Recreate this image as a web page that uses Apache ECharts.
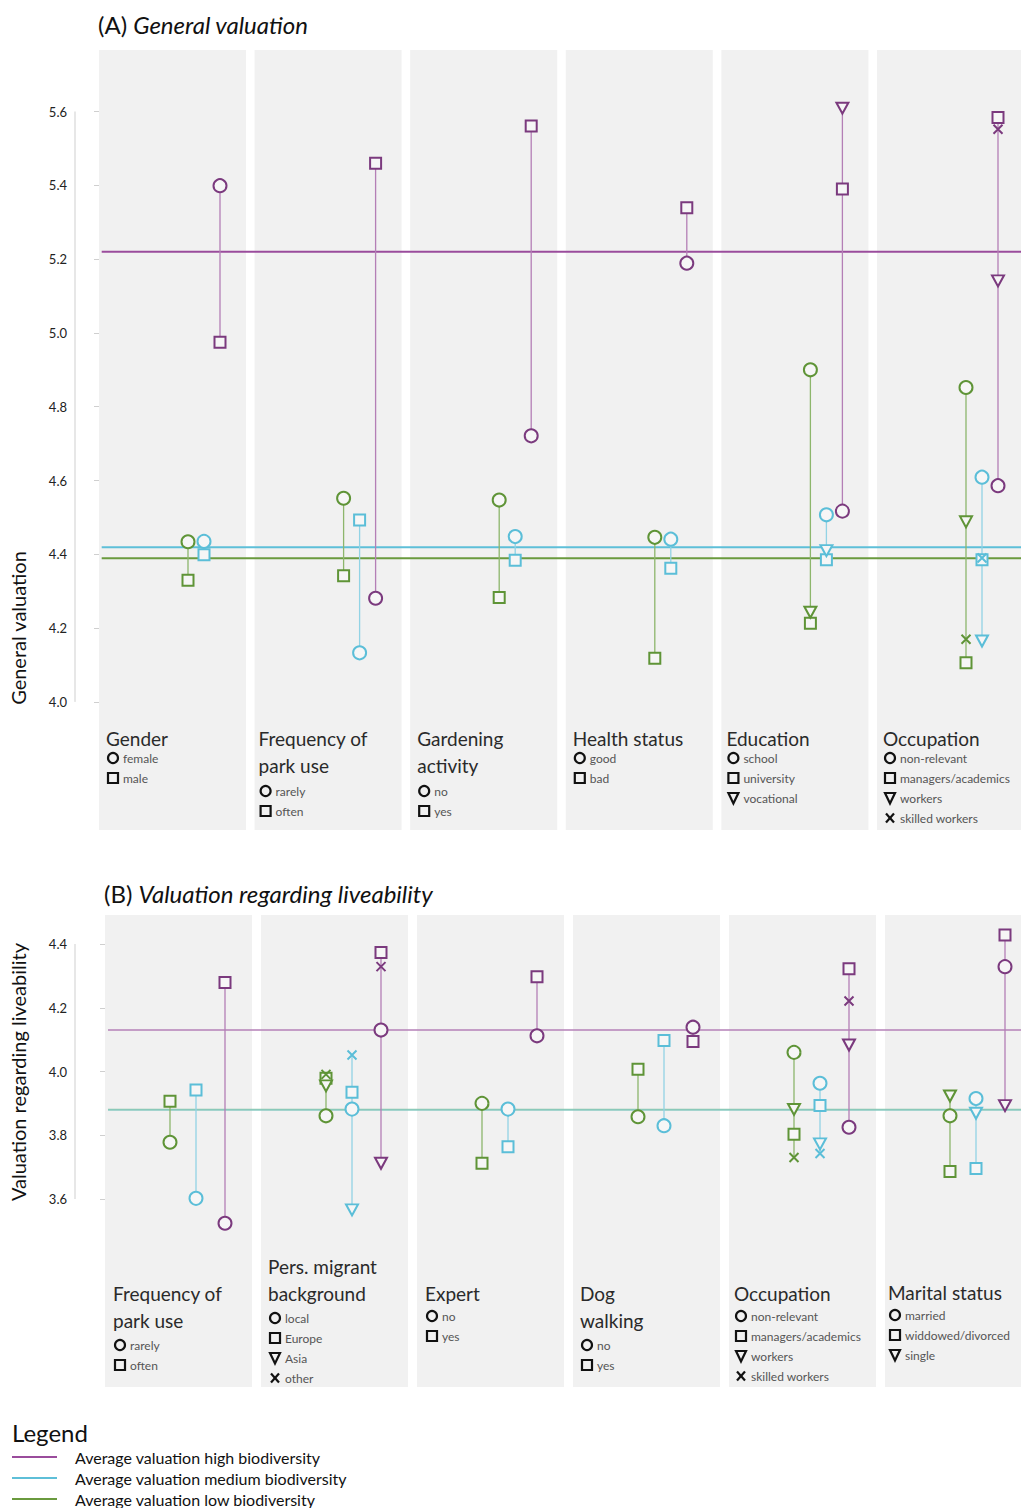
<!DOCTYPE html>
<html><head><meta charset="utf-8">
<script src="https://cdn.jsdelivr.net/npm/echarts@6/dist/echarts.min.js"></script>
<style>html,body{margin:0;padding:0;background:#fff}#c{width:1021px;height:1508px}</style>
</head><body><div id="c"></div>
<script>
// ---------------- DATA ----------------
const levels = ['low', 'medium', 'high'];
const markerShapes = ['circle', 'square', 'triangle', 'cross'];

// Panel A: General valuation
const facetTitlesA = [['Gender'], ['Frequency of', 'park use'], ['Gardening', 'activity'], ['Health status'], ['Education'], ['Occupation']];
const facetCatsA = [['female', 'male'], ['rarely', 'often'], ['no', 'yes'], ['good', 'bad'], ['school', 'university', 'vocational'], ['non-relevant', 'managers/academics', 'workers', 'skilled workers']];
// values per facet in order: circle, square, triangle, cross
const valuesA_low = [[4.434, 4.330], [4.552, 4.342], [4.547, 4.283], [4.446, 4.118], [4.900, 4.213, 4.243], [4.852, 4.106, 4.488, 4.170]];
const valuesA_medium = [[4.435, 4.399], [4.133, 4.493], [4.448, 4.384], [4.441, 4.362], [4.507, 4.385, 4.410], [4.609, 4.385, 4.165, 4.390]];
const valuesA_high = [[5.399, 4.975], [4.281, 5.460], [4.721, 5.561], [5.189, 5.339], [4.517, 5.390, 5.609], [4.586, 5.584, 5.141, 5.552]];
const averagesA = [4.389, 4.419, 5.220]; // low, medium, high
const ticksA = [4.0, 4.2, 4.4, 4.6, 4.8, 5.0, 5.2, 5.4, 5.6];

// Panel B: Valuation regarding liveability
const facetTitlesB = [['Frequency of', 'park use'], ['Pers. migrant', 'background'], ['Expert'], ['Dog', 'walking'], ['Occupation'], ['Marital status']];
const facetCatsB = [['rarely', 'often'], ['local', 'Europe', 'Asia', 'other'], ['no', 'yes'], ['no', 'yes'], ['non-relevant', 'managers/academics', 'workers', 'skilled workers'], ['married', 'widdowed/divorced', 'single']];
const valuesB_low = [[3.778, 3.907], [3.861, 3.979, 3.955, 3.991], [3.900, 3.712], [3.858, 4.007], [4.060, 3.803, 3.881, 3.730], [3.861, 3.686, 3.923]];
const valuesB_medium = [[3.602, 3.942], [3.882, 3.935, 3.566, 4.052], [3.882, 3.764], [3.830, 4.097], [3.963, 3.893, 3.773, 3.743], [3.915, 3.696, 3.869]];
const valuesB_high = [[3.524, 4.279], [4.130, 4.373, 3.712, 4.329], [4.112, 4.297], [4.139, 4.094], [3.825, 4.322, 4.083, 4.221], [4.329, 4.428, 3.893]];
const averagesB = [3.881, 3.879, 4.130];
const ticksB = [3.6, 3.8, 4.0, 4.2, 4.4];

const legendLabels = ['Average valuation high biodiversity', 'Average valuation medium biodiversity', 'Average valuation low biodiversity'];

// ---------------- STYLE / LAYOUT ----------------
const FONT = 'Lato, "Open Sans", "DejaVu Sans", sans-serif';
const COL = {
  low: { mark: '#5f9437', conn: '#8db66c', avgA: '#6a9a3e', avgB: '#82c19a' },
  medium: { mark: '#5bbed8', conn: '#92d3e5', avgA: '#5ebfd8', avgB: '#86c9c4' },
  high: { mark: '#7b3a7e', conn: '#b47fb6', avgA: '#9a4c9c', avgB: '#b581b7' }
};
const panels = [
  { titleA: '(A) ', titleB: 'General valuation', titleX: 98, titleY: 24, axisName: 'General valuation', axisNameY: 628,
    top: 50, height: 780, left: 75, width: 946, x0: 99, step: 155.6, facetW: 147,
    vTop: 5.6, yTop: 111.5, ppu: 369, offsets: [89, 105, 121], avgStart: 101.7, lw: 2,
    ticks: ticksA, titles: facetTitlesA, cats: facetCatsA, vals: [valuesA_low, valuesA_medium, valuesA_high], avgs: averagesA,
    labelTitleY: [738, 738, 738, 738, 738, 738], labelDx: [7, 4, 7, 7, 5, 6], itemGap1: 20, itemGap2: 26 },
  { titleA: '(B) ', titleB: 'Valuation regarding liveability', titleX: 104, titleY: 893, axisName: 'Valuation regarding liveability', axisNameY: 1072,
    top: 915, height: 472, left: 75, width: 946, x0: 105, step: 156, facetW: 147,
    vTop: 4.4, yTop: 944, ppu: 318.75, offsets: [65, 91, 120], avgStart: 108, lw: 1.5,
    ticks: ticksB, titles: facetTitlesB, cats: facetCatsB, vals: [valuesB_low, valuesB_medium, valuesB_high], avgs: averagesB,
    labelTitleY: [1293, 1266, 1293, 1293, 1293, 1292], labelDx: [8, 7, 8, 7, 5, 3], itemGap1: 23, itemGap2: 25 }
];

const symbolDef = {
  circle: { symbol: 'circle', size: 13, rot: 0 },
  square: { symbol: 'rect', size: 11, rot: 0 },
  triangle: { symbol: 'triangle', size: [12, 11], rot: 180 },
  cross: { symbol: 'path://M0,0L10,10M10,0L0,10', size: 9, rot: 0 }
};

const grids = [], xAxes = [], yAxes = [], series = [], graphics = [];
const ZG = 100;

panels.forEach((p, pi) => {
  const xMin = (p.left - p.x0) / p.step, xMax = (p.left + p.width - p.x0) / p.step;
  const yMax = p.vTop + (p.yTop - p.top) / p.ppu;
  const yMin = p.vTop - (p.top + p.height - p.yTop) / p.ppu;
  const fw = p.facetW / p.step;
  grids.push({ left: p.left, top: p.top, width: p.width, height: p.height, containLabel: false });
  xAxes.push({ type: 'value', gridIndex: pi, min: xMin, max: xMax, show: false });
  yAxes.push({ type: 'value', gridIndex: pi, min: yMin, max: yMax,
    axisLine: { show: false }, splitLine: { show: false },
    axisTick: { show: true, customValues: p.ticks, length: 5, lineStyle: { color: '#cfcfcf' } },
    axisLabel: { customValues: p.ticks, formatter: v => v.toFixed(1), fontFamily: FONT, fontSize: 13, color: '#222', margin: 8, padding: [0, 0, 8, 0] } });

  // facet backgrounds
  series.push({ type: 'custom', xAxisIndex: pi, yAxisIndex: pi, silent: true, z: 0, clip: false,
    data: p.titles.map((t, f) => [f, yMin]), encode: { x: 0, y: 1 },
    renderItem: (params, api) => {
      const f = api.value(0);
      const a = api.coord([f, yMax]), b = api.coord([f + fw, yMin]);
      return { type: 'rect', shape: { x: a[0], y: a[1], width: b[0] - a[0], height: b[1] - a[1] }, style: { fill: '#f1f1f1' } };
    } });
  // y axis line (only across tick range)
  series.push({ type: 'line', xAxisIndex: pi, yAxisIndex: pi, silent: true, z: 1, clip: false, symbol: 'none',
    data: [[xMin, p.ticks[0]], [xMin, p.ticks[p.ticks.length - 1]]], lineStyle: { color: '#cfcfcf', width: 1 } });
  // average lines
  levels.forEach((lv, li) => {
    series.push({ type: 'line', xAxisIndex: pi, yAxisIndex: pi, silent: true, z: 2, symbol: 'none',
      data: [[(p.avgStart - p.x0) / p.step, p.avgs[li]], [xMax, p.avgs[li]]],
      lineStyle: { color: pi === 0 ? COL[lv].avgA : COL[lv].avgB, width: p.lw, opacity: pi === 1 && lv !== 'high' ? 0.85 : 1 } });
  });
  // connectors and markers
  levels.forEach((lv, li) => {
    const vals = p.vals[li];
    const conn = [], pts = [];
    vals.forEach((arr, f) => {
      const x = f + p.offsets[li] / p.step;
      const nums = arr.filter(v => v != null);
      conn.push([x, Math.min(...nums), Math.max(...nums)]);
      arr.forEach((v, ci) => {
        if (v == null) return;
        const sd = symbolDef[markerShapes[ci]];
        pts.push({ value: [x, v], symbol: sd.symbol, symbolSize: sd.size, symbolRotate: sd.rot });
      });
    });
    series.push({ type: 'custom', xAxisIndex: pi, yAxisIndex: pi, silent: true, z: 3,
      data: conn, encode: { x: 0, y: [1, 2] },
      renderItem: (params, api) => {
        const a = api.coord([api.value(0), api.value(1)]), b = api.coord([api.value(0), api.value(2)]);
        return { type: 'line', shape: { x1: a[0], y1: a[1], x2: b[0], y2: b[1] }, style: { stroke: COL[lv].conn, lineWidth: 1.3 } };
      } });
    series.push({ type: 'scatter', xAxisIndex: pi, yAxisIndex: pi, z: 4, silent: true, data: pts,
      itemStyle: { color: '#f6f6f6', borderColor: COL[lv].mark, borderWidth: 2, opacity: 1 } });
  });

  // panel title
  graphics.push({ type: 'text', z: ZG, x: p.titleX, y: p.titleY, style: {
    text: '{a|' + p.titleA + '}{b|' + p.titleB + '}', verticalAlign: 'middle', textVerticalAlign: 'middle',
    rich: { a: { fontFamily: FONT, fontSize: 24, fill: '#111', color: '#111' }, b: { fontFamily: FONT, fontSize: 24, fontStyle: 'italic', fill: '#111', color: '#111' } } } });
  // axis name
  graphics.push({ type: 'text', z: ZG, x: 18, y: p.axisNameY, rotation: Math.PI / 2, style: {
    text: p.axisName, font: '20px ' + FONT, fill: '#111', align: 'center', verticalAlign: 'middle', textAlign: 'center', textVerticalAlign: 'middle' } });

  // facet labels
  p.titles.forEach((lines, f) => {
    const tx = p.x0 + p.step * f + p.labelDx[f];
    let y = p.labelTitleY[f];
    lines.forEach((ln, k) => {
      graphics.push({ type: 'text', z: ZG, x: tx, y: y + 27 * k, style: { text: ln, font: '19px ' + FONT, fill: '#2a2a2a', verticalAlign: 'middle', textVerticalAlign: 'middle' } });
    });
    let iy = y + 27 * (lines.length - 1) + (lines.length > 1 ? p.itemGap2 : p.itemGap1);
    p.cats[f].forEach((c, ci) => {
      const gx = tx + 7, gy = iy + 20 * ci;
      const shape = markerShapes[ci];
      const st = { stroke: '#111', lineWidth: 2.2, fill: 'none' };
      if (shape === 'circle') graphics.push({ type: 'circle', z: ZG, shape: { cx: gx, cy: gy, r: 5 }, style: st });
      else if (shape === 'square') graphics.push({ type: 'rect', z: ZG, shape: { x: gx - 5, y: gy - 5, width: 10, height: 10 }, style: st });
      else if (shape === 'triangle') graphics.push({ type: 'polygon', z: ZG, shape: { points: [[gx - 5, gy - 5], [gx + 5, gy - 5], [gx, gy + 5.5]] }, style: st });
      else {
        graphics.push({ type: 'line', z: ZG, shape: { x1: gx - 4, y1: gy - 4.5, x2: gx + 4, y2: gy + 4.5 }, style: st });
        graphics.push({ type: 'line', z: ZG, shape: { x1: gx + 4, y1: gy - 4.5, x2: gx - 4, y2: gy + 4.5 }, style: st });
      }
      graphics.push({ type: 'text', z: ZG, x: tx + 17, y: gy, style: { text: c, font: '12px ' + FONT, fill: '#555', verticalAlign: 'middle', textVerticalAlign: 'middle' } });
    });
  });
});

// bottom legend
graphics.push({ type: 'text', z: ZG, x: 12, y: 1432, style: { text: 'Legend', font: '24px ' + FONT, fill: '#111', verticalAlign: 'middle', textVerticalAlign: 'middle' } });
const legendCols = [COL.high.avgA, COL.medium.avgA, COL.low.avgA];
const legendYs = [1457, 1478, 1499];
legendLabels.forEach((t, i) => {
  graphics.push({ type: 'line', z: ZG, shape: { x1: 12, y1: legendYs[i], x2: 57, y2: legendYs[i] }, style: { stroke: legendCols[i], lineWidth: 2 } });
  graphics.push({ type: 'text', z: ZG, x: 75, y: legendYs[i], style: { text: t, font: '16px ' + FONT, fill: '#111', verticalAlign: 'middle', textVerticalAlign: 'middle' } });
});

const chart = echarts.init(document.getElementById('c'), null, { renderer: 'svg', width: 1021, height: 1508 });
chart.setOption({
  animation: false,
  backgroundColor: '#ffffff',
  grid: grids, xAxis: xAxes, yAxis: yAxes, series: series, graphic: graphics
});
</script></body></html>
